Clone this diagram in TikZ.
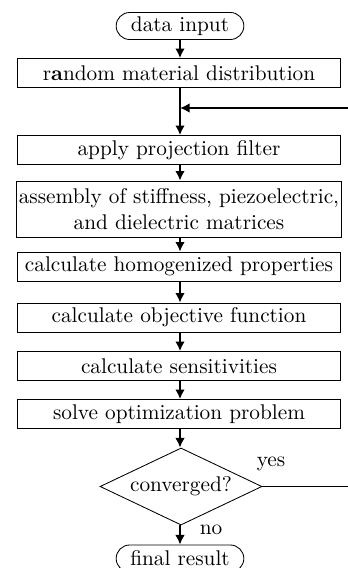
\documentclass[tikz,border=0pt]{standalone}
\usetikzlibrary{shapes.geometric,shapes.misc,arrows.meta}
\begin{document}
\begin{tikzpicture}[x=0.47pt,y=-0.47pt,
  stepbox/.style={draw,line width=0.4pt,minimum width=152pt,minimum height=13.6pt,inner sep=1pt,align=center},
  terminal/.style={draw,rounded rectangle,line width=0.4pt,minimum width=62pt,minimum height=12.7pt,inner sep=1pt},
  decision/.style={draw,diamond,line width=0.4pt,minimum width=76.1pt,minimum height=36.2pt,inner sep=0pt,aspect=2.1},
  flow/.style={line width=0.8pt,-{Latex[length=4.5pt,width=4.5pt]}},
  plain/.style={line width=0.8pt}]
\useasboundingbox (0,0) rectangle (347,568);
\node[terminal] (start) at (180,26) {data input};
\node[stepbox] (rand) at (179,73) {r\textbf{a}ndom material distribution};
\coordinate (j) at (180,108);
\node[stepbox] (proj) at (179,150) {apply projection filter};
\node[stepbox,minimum height=26.3pt] (asm) at (179,209) {assembly of stiffness, piezoelectric,\\and dielectric matrices};
\node[stepbox] (hom) at (179,266.5) {calculate homogenized properties};
\node[stepbox] (obj) at (179,317.5) {calculate objective function};
\node[stepbox] (sens) at (179,366) {calculate sensitivities};
\node[stepbox] (opt) at (179,414) {solve optimization problem};
\node[decision] (conv) at (181,486.5) {converged?};
\node[terminal] (fin) at (180,558.5) {final result};
\coordinate (r1) at (365,486.5);
\coordinate (r2) at (365,108);
\node (yes) at (271,464) {yes};
\node (no) at (211,530) {no};

\draw[flow] (start.south -| j) -- (rand.north -| j);
\draw[plain] (rand.south -| j) -- (j);
\draw[flow] (j) -- (proj.north -| j);
\draw[flow] (proj.south -| j) -- (asm.north -| j);
\draw[flow] (asm.south -| j) -- (hom.north -| j);
\draw[flow] (hom.south -| j) -- (obj.north -| j);
\draw[flow] (obj.south -| j) -- (sens.north -| j);
\draw[flow] (sens.south -| j) -- (opt.north -| j);
\draw[flow] (opt.south -| j) -- (conv.north -| j);
\draw[flow] (conv.south -| j) -- (fin.north -| j);
\draw[line width=0.6pt] (conv.east) -- (r1) -- (r2);
\draw[flow] (r2) -- (j);
\end{tikzpicture}
\end{document}
